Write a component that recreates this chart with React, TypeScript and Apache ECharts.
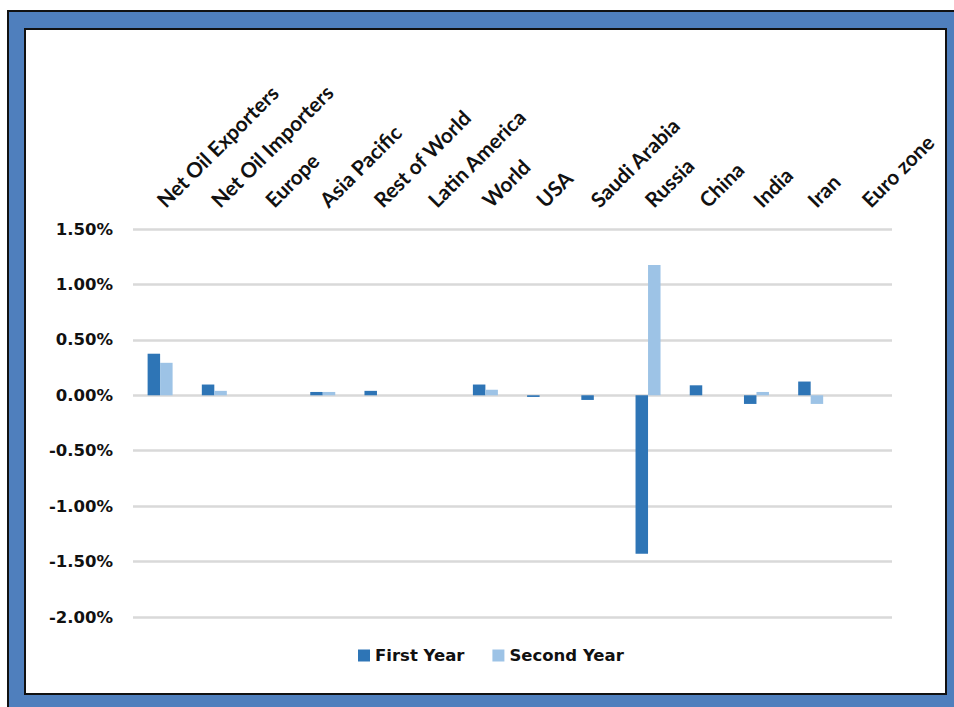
import React, { useEffect, useRef } from "react";
import * as echarts from "echarts";

// Regions and countries, left to right
const categories = [
  "Net Oil Exporters",
  "Net Oil Importers",
  "Europe",
  "Asia Pacific",
  "Rest of World",
  "Latin America",
  "World",
  "USA",
  "Saudi Arabia",
  "Russia",
  "China",
  "India",
  "Iran",
  "Euro zone",
];

// Percentage change in each period
const firstYear = [0.375, 0.097, 0, 0.03, 0.04, 0, 0.097, -0.015, -0.042, -1.43, 0.09, -0.078, 0.124, 0];
const secondYear = [0.293, 0.04, 0, 0.03, 0, 0, 0.05, 0, 0, 1.175, 0, 0.03, -0.078, 0];

const yTicks = { min: -2, max: 1.5, interval: 0.5 };

const W = 954;
const H = 707;

export default function App() {
  const ref = useRef<HTMLDivElement>(null);

  useEffect(() => {
    if (!ref.current) return;
    const chart = echarts.init(ref.current, undefined, { renderer: "svg", width: W, height: H });
    const labelFont = "'DejaVu Sans', sans-serif";

    chart.setOption({
      animation: false,
      backgroundColor: "transparent",
      graphic: [
        {
          type: "rect",
          z: -10,
          silent: true,
          shape: { x: 8, y: 11, width: 960, height: 710 },
          style: { fill: "#4f7fbd", stroke: "#111", lineWidth: 2 },
        },
        {
          type: "rect",
          z: -9,
          silent: true,
          shape: { x: 25, y: 29, width: 921, height: 665 },
          style: { fill: "#ffffff", stroke: "#111", lineWidth: 2 },
        },
      ],
      grid: { left: 133, right: 62, top: 229, bottom: 90, containLabel: false },
      legend: {
        left: 353,
        top: 642,
        itemWidth: 12,
        itemHeight: 12,
        itemGap: 28,
        icon: "rect",
        textStyle: { fontFamily: labelFont, fontWeight: "bold", fontSize: 16.5, color: "#111" },
        data: ["First Year", "Second Year"],
      },
      xAxis: {
        type: "category",
        position: "top",
        data: categories,
        axisLine: { show: false, onZero: false },
        axisTick: { show: false },
        axisLabel: {
          interval: 0,
          rotate: -45,
          margin: 26,
          fontFamily: "Lato, 'Open Sans', sans-serif",
          fontWeight: "bold",
          fontSize: 20.8,
          color: "#111",
        },
      },
      yAxis: {
        type: "value",
        min: yTicks.min,
        max: yTicks.max,
        interval: yTicks.interval,
        axisLine: { show: false },
        axisTick: { show: false },
        splitLine: { lineStyle: { color: "#d9d9d9", width: 2.5 } },
        axisLabel: {
          margin: 20,
          fontFamily: labelFont,
          fontWeight: "bold",
          fontSize: 16.5,
          color: "#111",
          formatter: (v: number) => v.toFixed(2) + "%",
        },
      },
      series: [
        {
          name: "First Year",
          type: "bar",
          data: firstYear,
          barWidth: 12.5,
          barGap: "0%",
          itemStyle: { color: "#2e75b6" },
        },
        {
          name: "Second Year",
          type: "bar",
          data: secondYear,
          barWidth: 12.5,
          barGap: "0%",
          itemStyle: { color: "#9dc3e6" },
        },
      ],
    });

    return () => chart.dispose();
  }, []);

  return (
    <div
      ref={ref}
      style={{ position: "fixed", left: 0, top: 0, width: W, height: H, background: "#fff" }}
    />
  );
}
